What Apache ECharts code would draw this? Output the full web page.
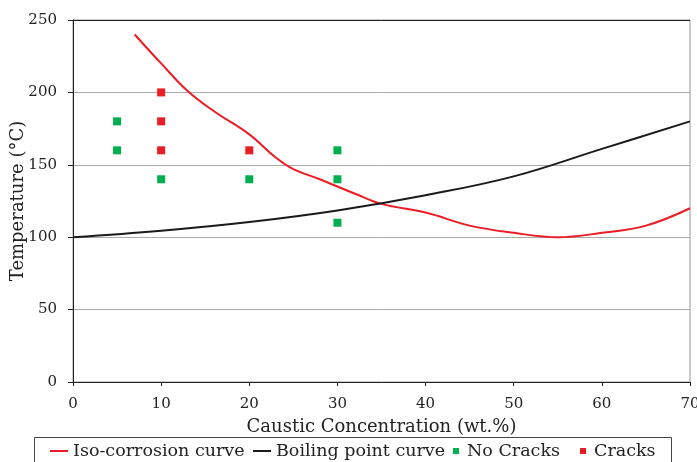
<!DOCTYPE html>
<html>
<head>
<meta charset="utf-8">
<script src="https://cdn.jsdelivr.net/npm/echarts@6/dist/echarts.min.js"></script>
<style>
  html, body { margin: 0; padding: 0; background: #fff; }
  #chart { width: 697px; height: 462px; }
</style>
</head>
<body>
<div id="chart"></div>
<script>
	// values: [concentration wt.%, temperature °C]
	var isoCorrosion = [[7,240],[10,220],[13,201],[16,187],[20,171],[23,155],[25,147],[28,140],[32,130],[35,123],[40,117],[45,108],[50,103],[55,100],[60,103],[65,108],[70,120]];
	var boilingPoint = [[0,100],[10,104.5],[20,110.5],[30,118.5],[40,129],[50,142],[60,161],[70,180]];
	var noCracks = [[5,180],[5,160],[10,140],[20,140],[30,160],[30,140],[30,110]];
	var cracks = [[10,200],[10,180],[10,160],[20,160]];

	var font = 'DejaVu Serif';
	var red = '#ed1c24', green = '#00b050', black = '#1a1a1a';
	var square = 'path://M0,0h1v1h-1z';
	var myChart = echarts.init(document.getElementById('chart'));

	function legendItem(name, left, icon, w, h) {
		return {
			data: [name], left: left, top: 442, padding: 0,
			icon: icon, itemWidth: w, itemHeight: h, symbolKeepAspect: true,
			textStyle: { fontFamily: font, fontSize: 17.5, color: '#222' }
		};
	}

	var option = {
		animation: false,
		textStyle: { fontFamily: font },
		grid: {
			left: 73, right: 7, top: 20, bottom: 80, outerBoundsMode: 'none',
			show: true, borderColor: '#999', borderWidth: 1
		},
		graphic: [{
			type: 'rect',
			shape: { x: 34.5, y: 437.5, width: 637, height: 40 },
			style: { fill: 'none', stroke: '#444', lineWidth: 1 }
		}],
		legend: [
			legendItem('Iso-corrosion curve', 50, 'rect', 18, 2),
			legendItem('Boiling point curve', 253, 'rect', 18, 2),
			legendItem('No Cracks', 453, square, 12, 6),
			legendItem('Cracks', 580, square, 12, 6)
		],
		xAxis: {
			type: 'value', min: 0, max: 70, interval: 10,
			name: 'Caustic Concentration (wt.%)', nameLocation: 'middle', nameGap: 36,
			nameMoveOverlap: false,
			nameTextStyle: { fontFamily: font, fontSize: 18, color: '#222' },
			axisLine: { lineStyle: { color: '#222' } },
			axisTick: { show: true, length: 4, lineStyle: { color: '#222' } },
			axisLabel: { fontFamily: font, fontSize: 15, color: '#222', margin: 15 },
			splitLine: { show: false }
		},
		yAxis: {
			type: 'value', min: 0, max: 250, interval: 50,
			name: 'Temperature (°C)', nameLocation: 'middle', nameGap: 46,
			nameMoveOverlap: false,
			nameTextStyle: { fontFamily: font, fontSize: 18, color: '#222' },
			axisLine: { show: true, lineStyle: { color: '#222' } },
			axisTick: { show: true, length: 5, lineStyle: { color: '#222' } },
			axisLabel: { fontFamily: font, fontSize: 15, color: '#222', margin: 16 },
			splitLine: { show: true, lineStyle: { color: ['#aaa','#aaa','#aaa','#aaa','#aaa','#222'] } }
		},
		series: [{
			name: 'Iso-corrosion curve', type: 'line', data: isoCorrosion,
			smooth: 0.4, showSymbol: false, symbol: 'none',
			lineStyle: { color: red, width: 2 }, itemStyle: { color: red }
		}, {
			name: 'Boiling point curve', type: 'line', data: boilingPoint,
			smooth: 0.4, showSymbol: false, symbol: 'none',
			lineStyle: { color: black, width: 2 }, itemStyle: { color: black }
		}, {
			name: 'No Cracks', type: 'scatter', data: noCracks,
			symbol: 'rect', symbolSize: 8, itemStyle: { color: green, opacity: 1 }
		}, {
			name: 'Cracks', type: 'scatter', data: cracks,
			symbol: 'rect', symbolSize: 8, itemStyle: { color: red, opacity: 1 }
		}]
	};
	myChart.setOption(option);
</script>
</body>
</html>
